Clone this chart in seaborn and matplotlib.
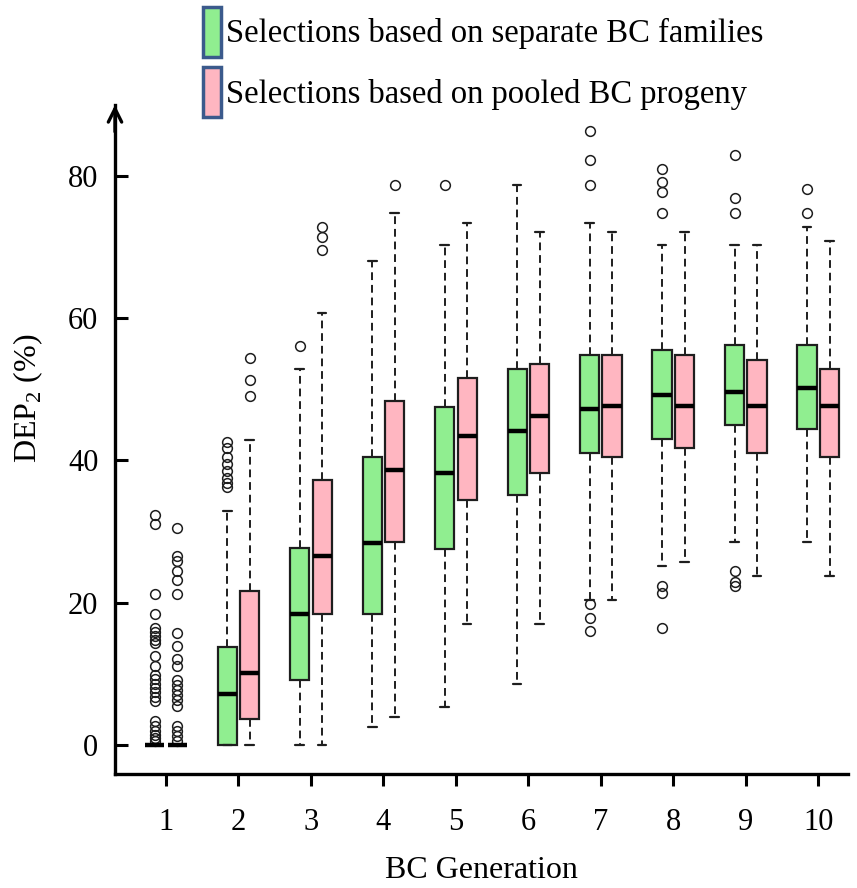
import matplotlib
matplotlib.use("Agg")
import matplotlib.pyplot as plt
from matplotlib.patches import Patch
import seaborn as sns

# BC generations on the x axis
generations = [1, 2, 3, 4, 5, 6, 7, 8, 9, 10]

# Selections based on separate BC families (green)
sep_q1 = [0, 0, 9.1, 18.4, 27.6, 35.1, 41.1, 43.0, 45.0, 44.4]
sep_med = [0, 7.2, 18.4, 28.4, 38.3, 44.2, 47.2, 49.2, 49.7, 50.2]
sep_q3 = [0, 13.8, 27.7, 40.5, 47.5, 52.8, 54.9, 55.5, 56.3, 56.3]
sep_lo = [0, 0, 0, 2.5, 5.3, 8.6, 20.4, 25.2, 28.5, 28.5]
sep_hi = [0, 32.9, 52.8, 68.1, 70.3, 78.7, 73.4, 70.3, 70.3, 72.9]
sep_out = [
    [32.3, 31.1, 21.2, 18.4, 16.5, 15.9, 15.3, 14.8, 14.3, 12.5, 11.1, 9.8, 9.2,
     8.6, 8.0, 7.4, 6.8, 6.2, 3.3, 2.6, 2.0, 1.4, 0.9, 0.5],
    [42.6, 41.8, 40.5, 39.5, 38.5, 37.5, 36.8, 36.3],
    [56.1],
    [],
    [78.7],
    [],
    [86.3, 82.2, 78.7, 19.8, 17.9, 16.0],
    [81.0, 79.2, 77.8, 74.8, 22.4, 21.3, 16.4],
    [83.0, 76.9, 74.8, 24.4, 22.9, 22.3],
    [78.2, 74.8],
]

# Selections based on pooled BC progeny (pink)
pool_q1 = [0, 3.7, 18.4, 28.5, 34.4, 38.3, 40.5, 41.7, 41.1, 40.5]
pool_med = [0, 10.1, 26.5, 38.7, 43.5, 46.3, 47.6, 47.6, 47.6, 47.6]
pool_q3 = [0, 21.7, 37.3, 48.4, 51.6, 53.5, 54.9, 54.9, 54.1, 52.9]
pool_lo = [0, 0, 0, 3.9, 17.0, 17.0, 20.4, 25.7, 23.8, 23.8]
pool_hi = [0, 42.9, 60.7, 74.8, 73.4, 72.2, 72.2, 72.2, 70.3, 70.9]
pool_out = [
    [30.5, 26.5, 25.8, 24.5, 23.2, 21.2, 15.8, 13.9, 12.1, 11.1, 9.1, 8.4, 7.7,
     7.0, 6.3, 5.4, 2.6, 1.9, 1.2, 0.5],
    [54.4, 51.3, 49.1],
    [72.8, 71.4, 69.6],
    [78.7],
    [], [], [], [], [], [],
]

labels = ["Selections based on separate BC families",
          "Selections based on pooled BC progeny"]
colors = ["#90EE90", "#FFB6C1"]

sns.set_style("ticks")
plt.rcParams['font.family'] = ['Liberation Serif', 'DejaVu Serif']
plt.rcParams['mathtext.fontset'] = 'custom'
plt.rcParams['mathtext.rm'] = 'Liberation Serif'
for key in ['text.color', 'axes.labelcolor', 'xtick.color', 'ytick.color', 'axes.edgecolor']:
    plt.rcParams[key] = 'black'


def make_stats(q1, med, q3, lo, hi, out):
    return [dict(q1=a, med=b, q3=c, whislo=d, whishi=e, fliers=f)
            for a, b, c, d, e, f in zip(q1, med, q3, lo, hi, out)]


fig = plt.figure(figsize=(8.57, 8.88), dpi=100)
ax = fig.add_axes([115 / 857, 1 - 774 / 888, (848 - 115) / 857, (774 - 105) / 888])

offset = 0.155
width = 0.265
series = [
    (make_stats(sep_q1, sep_med, sep_q3, sep_lo, sep_hi, sep_out), -offset, colors[0]),
    (make_stats(pool_q1, pool_med, pool_q3, pool_lo, pool_hi, pool_out), offset, colors[1]),
]
for stats, off, col in series:
    ax.bxp(stats, positions=[g + off for g in generations], widths=width,
           patch_artist=True, showfliers=True, capwidths=0.12,
           boxprops=dict(facecolor=col, edgecolor="#1e1e1e", linewidth=1.6),
           medianprops=dict(color="black", linewidth=3.2),
           whiskerprops=dict(color="#1e1e1e", linewidth=1.4, linestyle=(0, (4, 2.5))),
           capprops=dict(color="#1e1e1e", linewidth=1.6),
           flierprops=dict(marker="o", markerfacecolor="none", markeredgecolor="#1e1e1e",
                           markersize=7, markeredgewidth=1.1))

ax.set_xlim(0.297, 10.41)
ax.set_ylim(-4.1, 90)
ax.set_xticks(generations)
ax.set_xticklabels([str(g) for g in generations])
ax.set_yticks([0, 20, 40, 60, 80])

sns.despine(ax=ax)
for side in ["left", "bottom"]:
    ax.spines[side].set_linewidth(2.4)
ax.tick_params(axis="y", direction="in", length=9.5, width=2.2, pad=12, labelsize=22)
ax.tick_params(axis="x", direction="out", length=8.5, width=2.2, pad=16, labelsize=22)

ax.set_xlabel("BC Generation", fontsize=23, labelpad=14)
ax.set_ylabel("DEP$_\\mathregular{2}$ (%)", fontsize=23)
ax.yaxis.set_label_coords(-0.096, 0.562)

# arrow head on top of the y axis
ax.annotate("", xy=(0, 1.0), xytext=(0, 0.96), xycoords="axes fraction",
            arrowprops=dict(arrowstyle="->", lw=2.4, color="black",
                            mutation_scale=24, shrinkA=0, shrinkB=0),
            annotation_clip=False)

handles = [Patch(facecolor=c, edgecolor="#3b5a8c", linewidth=2.5) for c in colors]
fig.legend(handles=handles, labels=labels, loc="upper left",
           bbox_to_anchor=(203 / 857, 1 - 7 / 888), frameon=False, fontsize=23.5,
           handlelength=0.55, handleheight=1.98, handletextpad=0.15,
           labelspacing=0.31, borderaxespad=0, borderpad=0)

fig.savefig("out.png", dpi=100)
